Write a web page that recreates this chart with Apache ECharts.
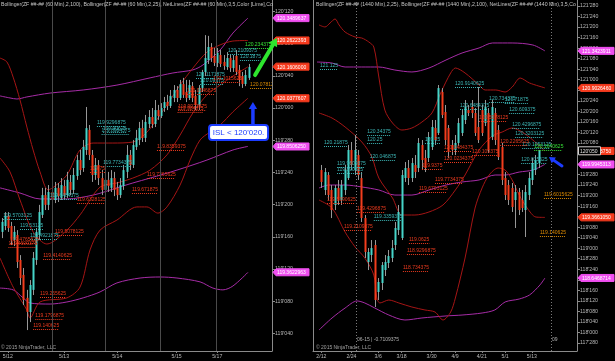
<!DOCTYPE html>
<html><head><meta charset="utf-8">
<script src="https://cdn.jsdelivr.net/npm/echarts@6.0.0/dist/echarts.min.js"></script>
<style>html,body{margin:0;padding:0;background:#000;}#c{width:615px;height:361px;}</style>
</head><body><div id="c"></div>
<script>
// ---------- tick labels / dates ----------
const leftTicks = [119.125,119.25,119.375,119.5,119.625,119.75,119.875,120,120.125,120.25,120.375];
const rightTicks = [117.875,118,118.125,118.25,118.375,118.5,118.625,118.75,118.875,119,119.125,119.25,119.375,119.5,119.625,119.75,119.875,120,120.125,120.25,120.375,120.5,120.625,120.75,120.875,121,121.125,121.25,121.375,121.5,121.625,121.75,121.875];
const leftDatePos = [2,20,37,56,69];
const leftDateText = ['5/12','5/13','5/14','5/15','5/17'];
const rightDatePos = [0,9,17,24,33,40,48,55,63];
const rightDateText = ['2/12','2/24','3/6','3/18','3/30','4/9','4/21','5/1','5/13'];
const leftSessionBreaks = [16.1,33.1,50.7,68.6];
const rightRollovers = [10.35,68.7];

// ---------- left panel (60 min) candles ----------
const leftOpen = [119.519,119.542,119.581,119.542,119.488,119.507,119.410,119.352,119.263,119.208,
119.294,119.410,119.507,119.585,119.662,119.624,119.674,119.643,119.690,119.651,
119.697,119.662,119.713,119.682,119.736,119.798,119.767,119.837,119.915,119.818,
119.740,119.779,119.728,119.682,119.721,119.690,119.728,119.690,119.662,119.697,
119.752,119.818,119.779,119.849,119.876,119.922,119.884,119.938,119.965,119.938,
119.992,119.969,120.000,120.023,120.008,120.039,120.070,120.039,120.093,120.062,
120.039,120.085,120.047,120.012,120.078,120.140,120.186,120.237,120.202,120.175,
120.206,120.179,120.159,120.194,120.155,120.202,120.148,120.124,120.093,120.117];
const leftClose = [119.558,119.581,119.534,119.488,119.519,119.402,119.340,119.255,119.208,119.313,
119.418,119.519,119.596,119.662,119.624,119.674,119.643,119.690,119.658,119.701,
119.662,119.721,119.682,119.740,119.798,119.759,119.849,119.922,119.818,119.740,
119.779,119.728,119.682,119.721,119.697,119.728,119.682,119.662,119.701,119.759,
119.818,119.779,119.856,119.884,119.922,119.884,119.946,119.965,119.938,119.992,
119.969,120.000,120.023,120.008,120.047,120.070,120.039,120.093,120.051,120.039,
120.089,120.039,120.012,120.078,120.140,120.194,120.237,120.194,120.175,120.214,
120.171,120.163,120.194,120.155,120.186,120.140,120.109,120.093,120.128,120.159];
const leftHigh = [119.573,119.596,119.596,119.558,119.542,119.526,119.429,119.379,119.294,119.332,
119.441,119.534,119.624,119.690,119.690,119.701,119.709,119.713,119.709,119.728,
119.721,119.752,119.740,119.767,119.818,119.837,119.876,120.004,119.934,119.837,
119.806,119.798,119.759,119.740,119.752,119.759,119.752,119.713,119.728,119.779,
119.856,119.837,119.876,119.915,119.946,119.954,119.973,119.992,120.000,120.031,
120.012,120.019,120.043,120.051,120.070,120.089,120.085,120.109,120.117,120.109,
120.109,120.101,120.070,120.089,120.148,120.283,120.280,120.252,120.233,120.233,
120.225,120.206,120.217,120.206,120.206,120.225,120.167,120.140,120.148,120.171];
const leftLow = [119.495,119.526,119.519,119.468,119.464,119.379,119.313,119.235,119.138,119.169,
119.274,119.391,119.488,119.573,119.604,119.604,119.624,119.631,119.635,119.643,
119.643,119.651,119.662,119.666,119.721,119.740,119.752,119.818,119.798,119.713,
119.721,119.701,119.662,119.662,119.674,119.674,119.658,119.643,119.651,119.682,
119.728,119.759,119.767,119.837,119.856,119.868,119.868,119.922,119.922,119.926,
119.954,119.961,119.985,119.992,120.000,120.023,120.023,120.031,120.039,120.023,
120.031,120.023,119.992,119.992,120.062,120.124,120.171,120.179,120.163,120.159,
120.159,120.148,120.148,120.140,120.140,120.128,120.085,120.078,120.085,120.109];

// ---------- left panel bands [bar position, price] ----------
const leftPurpleUp = [[-0.5,120.047],[2.7,120.039],[4.9,120.035],[8.1,120.043],[15.5,120.058],[26.1,120.070],[36.9,120.089],[47.5,120.117],[54.8,120.136],[61.2,120.148],[64.4,120.167],[69.9,120.225],[74.0,120.291],[78.8,120.349]];
const leftPurpleMid = [[-0.5,119.690],[5.9,119.670],[12.3,119.647],[20.9,119.647],[29.3,119.662],[36.9,119.690],[42.0,119.709],[47.5,119.728],[56.1,119.759],[65.7,119.798],[74.0,119.837],[78.8,119.851]];
const leftPurpleLow = [[-0.5,119.301],[3.7,119.294],[6.9,119.263],[9.1,119.243],[15.5,119.239],[20.9,119.247],[26.1,119.263],[31.5,119.286],[36.9,119.321],[44.3,119.340],[50.7,119.344],[56.1,119.340],[63.5,119.325],[67.6,119.301],[70.8,119.294],[74.0,119.309],[78.8,119.362]];
const leftRedUp = [[-0.5,120.194],[1.7,120.179],[3.7,120.120],[5.9,120.031],[8.1,119.926],[10.1,119.837],[12.3,119.752],[14.9,119.682],[17.1,119.697],[20.9,119.740],[25.1,119.837],[29.3,119.864],[35.6,119.864],[42.0,119.868],[45.2,119.891],[48.4,119.934],[52.9,120.012],[57.1,120.089],[61.2,120.155],[65.7,120.217],[69.9,120.245],[74.0,120.260],[78.8,120.262]];
const leftRedMid = [[-0.5,119.806],[2.7,119.752],[5.9,119.643],[10.1,119.519],[14.5,119.472],[20.9,119.526],[25.1,119.585],[31.5,119.693],[36.9,119.709],[42.0,119.728],[47.5,119.759],[52.9,119.818],[57.1,119.895],[61.2,119.981],[65.7,120.051],[69.9,120.089],[74.0,120.124],[78.8,120.160]];
const leftRedLow = [[-0.5,119.418],[3.7,119.305],[8.1,119.216],[9.1,119.185],[12.3,119.247],[20.9,119.263],[25.1,119.305],[28.3,119.449],[31.5,119.526],[36.9,119.565],[43.3,119.616],[46.5,119.616],[50.0,119.592],[52.9,119.616],[57.1,119.701],[60.3,119.798],[63.5,119.876],[66.7,119.907],[69.9,119.934],[74.0,119.985],[78.8,120.038]];

// ---------- right panel (1440 min) candles ----------
const rightOpen = [119.928,119.691,119.869,119.691,119.513,119.715,119.572,119.691,119.833,120.166,
119.928,120.106,119.833,119.358,118.836,118.919,119.038,118.480,118.587,118.741,
118.824,118.884,119.038,119.216,119.121,119.833,119.952,119.833,119.988,119.952,
120.225,120.071,120.071,120.201,120.427,120.367,120.854,120.617,120.427,120.225,
120.166,120.249,120.367,120.522,120.640,120.676,120.605,120.439,120.640,120.486,
120.605,120.320,120.605,120.403,120.201,119.833,119.750,119.715,119.572,119.667,
119.572,119.453,119.631,119.810,119.928,120.011];
const rightClose = [119.786,119.904,119.631,119.453,119.715,119.572,119.750,119.928,120.166,119.988,
120.166,119.869,119.358,118.955,118.955,119.002,118.385,118.599,118.801,118.836,
118.907,119.002,119.240,119.430,119.869,119.952,119.833,120.011,119.904,120.249,
120.047,119.952,120.320,120.439,120.284,120.901,120.581,120.284,120.142,120.166,
120.249,120.486,120.581,120.676,120.605,120.605,120.367,120.284,120.367,120.676,
120.166,120.676,120.284,120.082,119.810,119.631,119.572,119.489,119.667,119.453,
119.477,119.667,119.833,120.011,120.047,120.156];
const rightHigh = [119.988,119.952,119.904,119.750,119.750,119.810,119.810,119.988,120.225,120.261,
120.344,120.166,119.904,119.394,119.002,119.097,119.097,118.646,118.836,118.919,
118.979,119.097,119.311,119.513,119.928,120.023,120.047,120.071,120.106,120.308,
120.284,120.166,120.379,120.522,120.522,120.937,120.901,120.700,120.462,120.284,
120.344,120.545,120.640,120.759,120.700,120.759,120.664,120.913,120.700,120.759,
120.664,120.759,120.664,120.462,120.249,119.904,119.810,119.774,119.750,119.715,
119.691,119.750,119.904,120.071,120.106,120.166];
const rightLow = [119.715,119.631,119.572,119.358,119.453,119.513,119.513,119.631,119.810,119.928,
119.869,119.810,119.311,118.884,118.741,118.836,118.302,118.385,118.504,118.670,
118.765,118.836,118.979,119.157,119.097,119.786,119.750,119.786,119.833,119.904,
119.928,119.904,120.023,120.166,120.225,120.344,120.545,120.225,120.071,120.106,
120.106,120.213,120.332,120.474,120.569,120.545,120.332,120.249,120.332,120.450,
120.130,120.284,120.225,120.047,119.750,119.572,119.513,119.430,119.240,119.394,
119.430,119.133,119.572,119.750,119.869,119.952];

// ---------- right panel bands ----------
const rightRedUp = [[-0.7,121.650],[1.1,121.626],[2.6,121.673],[4.1,121.721],[5.3,121.650],[7.1,121.566],[10.1,121.507],[12.1,121.495],[14.2,121.448],[15.7,121.388],[17.2,121.032],[19.0,120.640],[21.3,120.486],[24.1,120.403],[27.1,120.427],[30.1,120.498],[33.1,120.605],[35.7,120.842],[38.7,121.080],[40.1,121.139],[43.0,121.080],[47.2,120.937],[49.0,120.878],[52.2,120.878],[55.0,120.854],[57.1,120.913],[59.5,121.020],[62.3,120.961],[66.9,120.903]];
const rightRedMid = [[-0.7,120.605],[3.2,120.545],[7.1,120.439],[12.1,120.261],[15.1,120.082],[17.2,119.833],[21.3,119.596],[24.1,119.394],[28.0,119.394],[32.2,119.430],[36.4,119.513],[40.1,119.691],[43.0,119.869],[47.2,120.166],[51.2,120.332],[54.1,120.379],[57.1,120.427],[60.1,120.379],[63.3,120.284],[66.9,120.154]];
const rightRedLow = [[-0.7,119.572],[3.2,119.477],[7.1,119.192],[10.1,119.015],[13.0,118.884],[15.7,118.682],[16.6,118.409],[17.5,118.350],[20.2,118.385],[23.2,118.350],[27.1,118.302],[31.0,118.267],[34.0,118.243],[36.4,118.148],[38.7,118.243],[40.1,118.409],[43.0,118.884],[46.0,119.477],[48.1,119.715],[50.2,119.869],[52.9,119.952],[55.0,119.928],[57.1,119.810],[59.2,119.631],[61.6,119.477],[64.2,119.370],[66.9,119.366]];
const rightPurpleUp = [[-1.3,121.210],[3.2,121.198],[7.1,121.151],[12.1,121.151],[17.2,121.151],[22.0,121.115],[27.1,121.092],[32.2,121.139],[37.3,121.234],[42.1,121.317],[47.2,121.377],[51.2,121.436],[57.1,121.436],[63.3,121.412],[66.9,121.342]];
const rightPurpleMid = [[-0.7,119.715],[2.3,119.750],[7.1,119.750],[12.1,119.727],[17.2,119.691],[22.0,119.631],[27.1,119.631],[32.2,119.691],[37.3,119.750],[42.1,119.786],[47.2,119.810],[52.0,119.869],[55.0,119.869],[59.2,119.904],[63.3,119.928],[66.9,119.995]];
const rightPurpleLow = [[-0.7,118.029],[3.2,118.172],[7.1,118.290],[10.7,118.374],[13.0,118.350],[16.0,118.290],[20.2,118.207],[25.0,118.148],[30.1,118.172],[37.3,118.196],[42.1,118.207],[48.1,118.231],[51.9,118.267],[55.0,118.362],[59.2,118.397],[62.3,118.445],[65.4,118.563],[66.9,118.646]];

// ---------- NetLines price labels ----------
const leftNetPrice = [120.234375,120.2109375,120.1875,120.1171875,120.09375,120.1015625,120.078125,120.0546875,119.9921875,119.984375,119.9296875,119.90625,119.8984375,119.8359375,119.7734375,119.75,119.7265625,119.671875,119.6484375,119.6328125,119.5703125,119.53125,119.5078125,119.4921875,119.4765625,119.4609375,119.4140625,119.265625,119.1796875,119.140625];
const leftNetPos = [77.9,72.4,76.3,62.2,63.5,67.6,79.5,59.3,56.5,56.3,30.5,32.5,32.0,49.7,32.5,28.3,46.5,41.7,15.5,24.1,0.5,5.9,17.1,9.1,2.7,2.2,13.3,12.3,10.8,10.1];
const leftNetKind = ['g','c','c','c','c','r','o','r','r','r','c','c','c','r','c','r','r','r','c','r','c','c','r','c','r','r','r','r','r','r'];
const rightNetPrice = [121.125,120.21875,120.34375,120.25,120.046875,120.25,120.9140625,120.734375,120.71875,120.6484375,120.609375,120.4296875,120.3203125,120.1953125,120.015625,119.9609375,119.890625,119.3359375,120.1640625,120.1484375,120.0234375,120.109375,120.5078125,120.2265625,119.9375,119.7734375,119.6703125,119.4296875,119.5390625,119.2109375,119.0625,118.9296875,118.734375,119.6015625,119.140625];
const rightNetPos = [-0.4,0.8,13.7,13.7,14.5,31.0,40.0,50.2,54.9,41.5,56.2,57.1,58.0,60.1,59.8,4.7,4.7,15.7,63.7,36.7,36.7,45.1,47.2,53.5,30.1,34.0,29.2,10.7,1.7,6.8,26.2,25.6,24.4,66.6,65.4];
const rightNetKind = ['c','c','c','c','c','c','c','c','c','c','c','c','c','c','c','c','c','c','g','r','r','r','r','r','r','r','r','r','r','r','r','r','r','o','o'];

// ---------- price markers on the axes ----------
const leftBoxPrice = [120.3489637,120.2622393,120.1606,120.0377607,119.850625,119.3622963];
const leftBoxKind = ['p','r','r','r','p','p'];
const rightBoxPrice = [121.3423911,120.902646,120.154375,119.9945313,119.366105,118.6468714];
const rightBoxKind = ['p','r','r','p','r','p'];
const rightLastPrice = 120.15625;

// annotation anchors [bar position, price]
const greenArrow = [[81.1,120.128],[88.1,120.272]];
const blueArrowLeft = [[80.4,119.930],[80.4,120.023]];
const islBox = [75.8,119.905];
const blueArrowRight = [[72.0,119.976],[68.1,120.083]];

// ---------- styling ----------
const UP='#46d4c9', DOWN='#f33d1d', WICK='#979797', RED='#a51515', PURP='#a62ca6';
const KCOL = {c:'#3cb5b5', r:'#ea3a1e', o:'#dc8a00', g:'#36e236'};
const BCOL = {p:'#f04ff0', r:'#f63b1e'};
const FONT = '"Liberation Sans", Arial, sans-serif';
const AX = '#8a8a8a', LBL = '#b8b8b8';

function fmt32(v){ const n=Math.floor(v+1e-9); const t=Math.round((v-n)*320); return n+"'"+String(t).padStart(3,'0'); }

function candleSeries(xi, o, c, l, h){
  return { type:'custom', xAxisIndex:xi, yAxisIndex:xi, clip:true, z:3, silent:true,
    encode:{x:0,y:[1,2,3,4]},
    data:o.map((v,i)=>[i,v,c[i],l[i],h[i]]),
    renderItem(params, api){
      const i=api.value(0), op=api.value(1), cl=api.value(2), lo=api.value(3), hi=api.value(4);
      const pO=api.coord([i,op]), pC=api.coord([i,cl]), pL=api.coord([i,lo]), pH=api.coord([i,hi]);
      const xc=Math.round(pO[0]);
      const top=Math.min(pO[1],pC[1]), bot=Math.max(pO[1],pC[1]);
      return {type:'group', children:[
        {type:'line', shape:{x1:xc+0.5,y1:pH[1],x2:xc+0.5,y2:pL[1]}, style:{stroke:WICK,lineWidth:1}},
        {type:'rect', shape:{x:xc-0.5,y:top,width:2,height:Math.max(1,bot-top)}, style:{fill:cl>=op?UP:DOWN}}
      ]};
    }
  };
}
function netSeries(xi, prices, pos, kinds){
  return { type:'custom', xAxisIndex:xi, yAxisIndex:xi, clip:true, z:4, silent:true,
    data:prices.map((p,k)=>[pos[k],p]),
    renderItem(params, api){
      const k=params.dataIndex; const pt=api.coord([api.value(0),api.value(1)]);
      const col=KCOL[kinds[k]]; const txt=String(prices[k]); const w=txt.length*2.55;
      const yl=Math.round(pt[1])+0.5;
      return {type:'group', children:[
        {type:'text', x:pt[0], y:yl-1, style:{text:txt, fill:col, font:'5px '+FONT, align:'left', verticalAlign:'bottom'}},
        {type:'line', shape:{x1:pt[0],y1:yl,x2:pt[0]+w,y2:yl}, style:{stroke:col,lineWidth:1,lineDash:[1,1]}}
      ]};
    }
  };
}
function band(xi, data, color, extra){
  return Object.assign({type:'line', xAxisIndex:xi, yAxisIndex:xi, data, symbol:'none', showSymbol:false, smooth:0.3, silent:true, z:2, lineStyle:{color, width:1}}, extra||{});
}
function xAx(gi, min, max, pos, txt){
  return {gridIndex:gi, type:'value', min, max, splitLine:{show:false},
    axisLine:{onZero:false, lineStyle:{color:AX}},
    axisTick:{customValues:pos, length:2, lineStyle:{color:AX}},
    axisLabel:{customValues:pos, formatter:v=>{const k=pos.indexOf(v); return k<0?'':txt[k];}, color:LBL, fontSize:5.2, fontFamily:FONT, margin:3}};
}
function yAx(gi, min, max, ticks){
  return {gridIndex:gi, type:'value', position:'right', min, max, splitLine:{show:false},
    axisLine:{show:true, onZero:false, lineStyle:{color:AX}},
    axisTick:{show:true, customValues:ticks, length:3, lineStyle:{color:AX}},
    axisLabel:{customValues:ticks, formatter:fmt32, color:LBL, fontSize:5.2, fontFamily:FONT, margin:3}};
}

const chart = echarts.init(document.getElementById('c'), null, {renderer:'canvas'});
chart.setOption({
  backgroundColor:'#000', animation:false,
  grid:[{left:0, top:0, width:272, height:351, outerBoundsMode:'none'},{left:313, top:0, width:264, height:351, outerBoundsMode:'none'}],
  xAxis:[xAx(0,-0.5,86.5,leftDatePos,leftDateText), xAx(1,-2.5,76.5,rightDatePos,rightDateText)],
  yAxis:[yAx(0,119.0567,120.4193,leftTicks), yAx(1,117.780,121.9462,rightTicks)],
  series:[
    band(0,leftPurpleUp,PURP,{markLine:{silent:true,symbol:'none',label:{show:false},lineStyle:{color:'#4a4a4a',type:'solid',width:1},data:leftSessionBreaks.map(v=>({xAxis:v}))}}),
    band(0,leftPurpleMid,PURP), band(0,leftPurpleLow,PURP),
    band(0,leftRedUp,RED), band(0,leftRedMid,RED), band(0,leftRedLow,RED),
    candleSeries(0,leftOpen,leftClose,leftLow,leftHigh),
    netSeries(0,leftNetPrice,leftNetPos,leftNetKind),
    band(1,rightPurpleUp,PURP,{markLine:{silent:true,symbol:'none',label:{show:false},lineStyle:{color:'#7a7a7a',type:[1,2],width:1},data:rightRollovers.map(v=>({xAxis:v}))}}),
    band(1,rightPurpleMid,PURP), band(1,rightPurpleLow,PURP),
    band(1,rightRedUp,RED), band(1,rightRedMid,RED), band(1,rightRedLow,RED),
    candleSeries(1,rightOpen,rightClose,rightLow,rightHigh),
    netSeries(1,rightNetPrice,rightNetPos,rightNetKind)
  ]
});

// ---------- overlay graphics anchored through the axes ----------
function px(g, pt){ return chart.convertToPixel({xAxisIndex:g, yAxisIndex:g}, pt); }
function priceBox(axisX, y, txt, fill, stroke, tcol){
  const h=7, w=33;
  return [
    {type:'polygon', z:50, shape:{points:[[axisX+1,y],[axisX+4,y-h/2],[axisX+4+w,y-h/2],[axisX+4+w,y+h/2],[axisX+4,y+h/2]]}, style:{fill, stroke:stroke||fill, lineWidth:1}},
    {type:'text', z:51, x:axisX+5, y:y+0.5, style:{text:txt, fill:tcol||'#ffffff', font:'5px '+FONT, align:'left', verticalAlign:'middle'}}
  ];
}
function arrow(p0, p1, color, w, head){
  const dx=p1[0]-p0[0], dy=p1[1]-p0[1], L=Math.hypot(dx,dy), ux=dx/L, uy=dy/L;
  const bx=p1[0]-ux*head, by=p1[1]-uy*head, nx=-uy, ny=ux, hw=head*0.6;
  return [
    {type:'line', z:60, shape:{x1:p0[0],y1:p0[1],x2:bx,y2:by}, style:{stroke:color,lineWidth:w,lineCap:'round'}},
    {type:'polygon', z:60, shape:{points:[[p1[0],p1[1]],[bx+nx*hw,by+ny*hw],[bx-nx*hw,by-ny*hw]]}, style:{fill:color}}
  ];
}
const g = [];
const lAx = px(0,[86.5,120])[0], rAx = px(1,[76.5,120])[0];
leftBoxPrice.forEach((p,k)=>{ g.push(...priceBox(lAx, px(0,[0,p])[1], p.toFixed(7), BCOL[leftBoxKind[k]])); });
rightBoxPrice.forEach((p,k)=>{ g.push(...priceBox(rAx, px(1,[0,p])[1], p.toFixed(7), BCOL[rightBoxKind[k]])); });
(function(){ const y=px(1,[0,rightLastPrice])[1];
  g.push({type:'rect', z:55, shape:{x:rAx+1.5,y:y-4,width:22,height:8}, style:{fill:'#000',stroke:'#d0d0d0',lineWidth:1}});
  g.push({type:'text', z:56, x:rAx+3, y:y+0.5, style:{text:fmt32(rightLastPrice), fill:'#e0e0e0', font:'5px '+FONT, verticalAlign:'middle'}});
})();
// headers & footers
g.push({type:'text', z:40, x:1, y:2, style:{text:'Bollinger(ZF ##-## (60 Min),2,100), Bollinger(ZF ##-## (60 Min),2,25), NetLines(ZF ##-## (60 Min),3,5,Color [Lime],Co', fill:'#c4c4c4', font:'5.2px '+FONT}});
g.push({type:'text', z:40, x:316, y:2, style:{text:'Bollinger(ZF ##-## (1440 Min),2,25), Bollinger(ZF ##-## (1440 Min),2,100), NetLines(ZF ##-## (1440 Min),3,5,Co', fill:'#c4c4c4', font:'5.2px '+FONT}});
g.push({type:'text', z:40, x:1, y:345, style:{text:'© 2015 NinjaTrader, LLC', fill:'#a0a0a0', font:'5px '+FONT}});
g.push({type:'text', z:40, x:316, y:345, style:{text:'© 2015 NinjaTrader, LLC', fill:'#a0a0a0', font:'5px '+FONT}});
const rollX = px(1,[rightRollovers[0],120])[0], roll2 = px(1,[rightRollovers[1],120])[0];
g.push({type:'text', z:40, x:rollX+1, y:337, style:{text:'06-15 | -0.7109375', fill:'#b0b0b0', font:'5px '+FONT}});
g.push({type:'text', z:40, x:roll2+1, y:337, style:{text:'09', fill:'#b0b0b0', font:'5px '+FONT}});
g.push({type:'line', z:40, shape:{x1:313.5,y1:0,x2:313.5,y2:351}, style:{stroke:'#8a8a8a',lineWidth:1}});
// annotations
g.push(...arrow(px(0,greenArrow[0]), px(0,greenArrow[1]), '#2ee62e', 4, 8));
g.push(...arrow(px(0,blueArrowLeft[0]), px(0,blueArrowLeft[1]), '#1c3cff', 3.5, 7));
g.push(...arrow(px(1,blueArrowRight[0]), px(1,blueArrowRight[1]), '#1c3cff', 3, 6));
(function(){ const c=px(0,islBox);
  g.push({type:'rect', z:60, shape:{x:c[0]-29.5,y:c[1]-7.5,width:59,height:15,r:3}, style:{fill:'#ffffff',stroke:'#1c3cff',lineWidth:2}});
  g.push({type:'text', z:61, x:c[0], y:c[1]+0.5, style:{text:"ISL < 120'020.", fill:'#1c3cff', font:'8px '+FONT, align:'center', verticalAlign:'middle'}});
})();
chart.setOption({graphic:g});
</script></body></html>
